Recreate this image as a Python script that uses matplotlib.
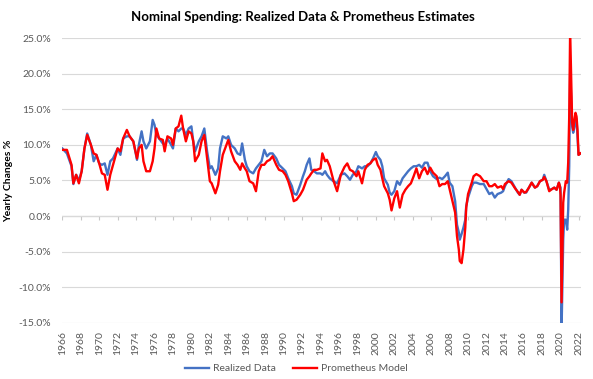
import matplotlib
matplotlib.use('Agg')
import matplotlib.pyplot as plt
from matplotlib.ticker import FuncFormatter

# readings (year, yearly change %)
years = [1966.0, 1966.5, 1967.0, 1967.2, 1967.5, 1967.8, 1968.1, 1968.4, 1968.7, 1969.1,
         1969.4, 1969.7, 1970.0, 1970.3, 1970.6, 1970.9, 1971.2, 1971.5, 1972.0, 1972.3,
         1972.6, 1973.0, 1973.3, 1973.7, 1974.1, 1974.3, 1974.6, 1974.8, 1975.1, 1975.5,
         1975.8, 1976.0, 1976.2, 1976.5, 1976.9, 1977.1, 1977.4, 1977.8, 1978.0, 1978.3,
         1978.6, 1978.9, 1979.1, 1979.4, 1979.7, 1980.0, 1980.2, 1980.4, 1980.8, 1981.1,
         1981.4, 1981.7, 1982.0, 1982.2, 1982.6, 1982.9, 1983.1, 1983.4, 1983.8, 1984.0,
         1984.3, 1984.7, 1985.0, 1985.3, 1985.5, 1985.8, 1986.0, 1986.3, 1986.7, 1987.0,
         1987.3, 1987.6, 1987.9, 1988.2, 1988.5, 1988.8, 1989.2, 1989.5, 1989.9, 1990.2,
         1990.5, 1990.9, 1991.1, 1991.4, 1991.8, 1992.1, 1992.3, 1992.5, 1992.8, 1993.0,
         1993.3, 1993.6, 1994.0, 1994.2, 1994.5, 1994.7, 1995.0, 1995.4, 1995.8, 1996.2,
         1996.6, 1996.9, 1997.2, 1997.5, 1997.9, 1998.1, 1998.5, 1998.8, 1999.1, 1999.4,
         1999.7, 2000.0, 2000.2, 2000.5, 2000.7, 2000.9, 2001.3, 2001.5, 2001.7, 2002.0,
         2002.3, 2002.6, 2002.9, 2003.2, 2003.5, 2003.8, 2004.1, 2004.4, 2004.7, 2005.0,
         2005.3, 2005.6, 2005.9, 2006.2, 2006.6, 2006.9, 2007.2, 2007.5, 2007.8, 2008.0,
         2008.3, 2008.6, 2008.8, 2009.0, 2009.1, 2009.3, 2009.5, 2009.7, 2009.8, 2010.0,
         2010.4, 2010.6, 2010.9, 2011.3, 2011.7, 2012.0, 2012.3, 2012.6, 2012.9, 2013.2,
         2013.6, 2013.8, 2014.0, 2014.4, 2014.7, 2015.1, 2015.4, 2015.6, 2015.8, 2016.1,
         2016.3, 2016.6, 2016.9, 2017.25, 2017.5, 2017.8, 2018.1, 2018.26, 2018.5, 2018.8,
         2019.1, 2019.35, 2019.6, 2019.85, 2019.96, 2020.03, 2020.14, 2020.32, 2020.42, 2020.6,
         2020.75, 2020.86, 2020.97, 2021.07, 2021.18, 2021.29, 2021.4, 2021.54, 2021.65, 2021.76,
         2021.87, 2021.98, 2022.19]

realized = [9.5, 8.8, 7.0, 4.5, 5.8, 5.0, 6.3, 9.5, 11.6, 10.0,
            7.7, 8.6, 7.4, 7.2, 7.4, 5.8, 7.7, 8.1, 9.5, 8.6,
            10.9, 11.2, 11.2, 10.5, 7.9, 10.0, 11.9, 10.5, 9.5, 10.5,
            13.5, 12.8, 11.4, 10.9, 10.2, 10.0, 10.9, 10.0, 9.5, 12.3,
            11.9, 12.3, 12.3, 11.4, 12.3, 12.6, 10.5, 9.1, 10.5, 11.2,
            12.3, 9.1, 6.7, 7.0, 5.8, 6.7, 9.5, 11.2, 10.9, 11.2,
            10.0, 9.5, 8.8, 8.6, 10.2, 7.9, 7.0, 6.3, 6.0, 6.7,
            7.2, 7.7, 9.3, 8.4, 8.8, 8.8, 8.1, 7.2, 6.7, 6.3,
            5.3, 4.2, 3.2, 3.0, 4.4, 5.6, 6.3, 7.2, 8.1, 6.5,
            6.3, 6.0, 6.0, 5.8, 6.3, 5.8, 5.3, 4.9, 4.6, 5.8,
            6.0, 5.6, 5.1, 5.8, 6.3, 7.0, 6.7, 7.0, 7.0, 7.4,
            8.1, 9.0, 8.4, 7.9, 7.0, 5.3, 4.4, 3.3, 3.0, 3.5,
            4.9, 4.4, 5.3, 5.8, 6.3, 6.7, 7.0, 7.0, 7.2, 6.8,
            7.5, 7.5, 6.3, 5.6, 5.2, 5.4, 5.2, 5.6, 6.1, 4.7,
            4.2, 2.1, -1.2, -2.3, -3.3, -2.5, -1.6, -0.5, 1.4, 2.6,
            4.2, 4.7, 4.7, 4.5, 4.5, 3.8, 3.1, 3.3, 2.6, 3.1,
            3.3, 3.5, 4.2, 5.2, 4.9, 4.0, 3.3, 3.0, 3.7, 3.3,
            3.3, 4.0, 4.7, 4.0, 4.2, 4.9, 5.1, 5.8, 4.9, 3.7,
            3.8, 4.0, 3.7, 4.7, 4.2, 4.0, -16.0, -3.3, -0.5, -0.5,
            -1.9, 0.9, 7.0, 20.0, 16.8, 12.6, 11.7, 12.5, 14.0, 13.6,
            11.0, 8.6, 8.8]

model = [9.3, 9.3, 7.2, 4.6, 5.8, 4.6, 6.3, 9.5, 11.4, 10.0,
         8.8, 8.6, 7.4, 6.0, 5.8, 3.7, 5.8, 7.2, 9.5, 9.1,
         10.9, 12.1, 11.2, 10.5, 8.1, 9.5, 10.0, 7.7, 6.3, 6.3,
         7.7, 9.5, 12.3, 10.9, 10.7, 9.1, 11.2, 10.9, 10.0, 12.3,
         12.6, 14.1, 12.3, 10.5, 11.9, 11.6, 10.5, 7.7, 8.6, 10.5,
         11.4, 8.1, 4.9, 4.6, 3.2, 4.4, 6.3, 8.6, 10.0, 10.7,
         9.1, 7.7, 7.2, 6.5, 7.4, 6.7, 6.3, 4.9, 4.6, 3.5,
         6.3, 7.2, 7.2, 7.7, 7.9, 8.4, 7.2, 6.5, 6.3, 5.8,
         4.9, 3.2, 2.1, 2.3, 3.0, 3.7, 4.4, 5.1, 5.6, 6.0,
         6.5, 6.5, 6.7, 8.8, 7.7, 7.9, 7.0, 5.0, 3.5, 5.8,
         6.9, 7.4, 6.5, 6.3, 5.6, 6.3, 4.6, 6.5, 7.2, 7.4,
         7.9, 8.1, 7.2, 6.5, 5.3, 4.2, 3.2, 2.3, 0.8, 2.5,
         3.5, 1.2, 3.0, 3.7, 4.2, 4.6, 5.6, 6.7, 5.3, 6.3,
         6.8, 5.9, 6.8, 6.1, 5.6, 4.2, 4.5, 4.5, 4.9, 3.8,
         2.1, 0.5, -2.8, -4.7, -6.3, -6.6, -4.7, -1.6, 1.2, 3.1,
         4.7, 5.6, 5.9, 5.6, 4.9, 4.9, 4.2, 4.2, 4.5, 4.0,
         4.2, 3.8, 4.5, 4.9, 4.7, 3.9, 3.4, 3.0, 3.7, 3.3,
         3.4, 4.0, 4.7, 4.0, 4.2, 4.9, 5.1, 5.5, 4.9, 3.5,
         3.8, 4.0, 3.7, 4.7, 4.2, 3.0, -12.1, 1.9, 3.3, 4.9,
         4.7, 7.5, 14.0, 26.0, 19.2, 13.1, 12.1, 13.6, 14.5, 14.0,
         12.1, 8.6, 8.8]

tick_years = list(range(1966, 2023, 2))
y_ticks = [25, 20, 15, 10, 5, 0, -5, -10, -15]

plt.rcParams['font.family'] = ['Lato', 'DejaVu Sans']
grey_txt = '#595959'

fig = plt.figure(figsize=(5.93, 3.79), dpi=100)
ax = fig.add_axes([0.1046, 0.1478, 0.8752, 0.7519])

ax.plot(years, realized, color='#4472C4', lw=1.7, label='Realized Data', zorder=3)
ax.plot(years, model, color='#FF0000', lw=1.7, label='Prometheus Model', zorder=4)

ax.set_xlim(1965.97, 2022.25)
ax.set_ylim(-15, 25)
ax.set_yticks(y_ticks)
ax.yaxis.set_major_formatter(FuncFormatter(lambda v, p: f'{v:.1f}%'))
ax.set_xticks(tick_years)
ax.set_xticklabels([str(y) for y in tick_years], rotation=90)

# horizontal grid only
ax.grid(axis='y', color='#D9D9D9', lw=0.8, zorder=0)
for s in ['top', 'right', 'left', 'bottom']:
    ax.spines[s].set_visible(False)

# category axis crosses at 0% with small hanging tick marks
ax.axhline(0, color='#C8C8C8', lw=0.9, zorder=1)
ax.vlines(tick_years, -0.6, 0, color='#C8C8C8', lw=0.8, zorder=1)

ax.tick_params(axis='both', length=0, labelsize=7.5, labelcolor=grey_txt)
ax.tick_params(axis='x', pad=6)
ax.tick_params(axis='y', pad=8)

ax.set_ylabel('Yearly Changes %', fontsize=7.5, fontweight='bold', labelpad=4)
fig.suptitle('Nominal Spending: Realized Data & Prometheus Estimates',
             fontsize=9.5, fontweight='bold', x=0.51, y=0.97)

fig.legend(loc='lower center', bbox_to_anchor=(0.5, -0.01), ncol=2, frameon=False,
           fontsize=7.5, handlelength=2.3, handletextpad=0.4, columnspacing=1.6,
           labelcolor=grey_txt)

fig.savefig('out.png', dpi=100)
